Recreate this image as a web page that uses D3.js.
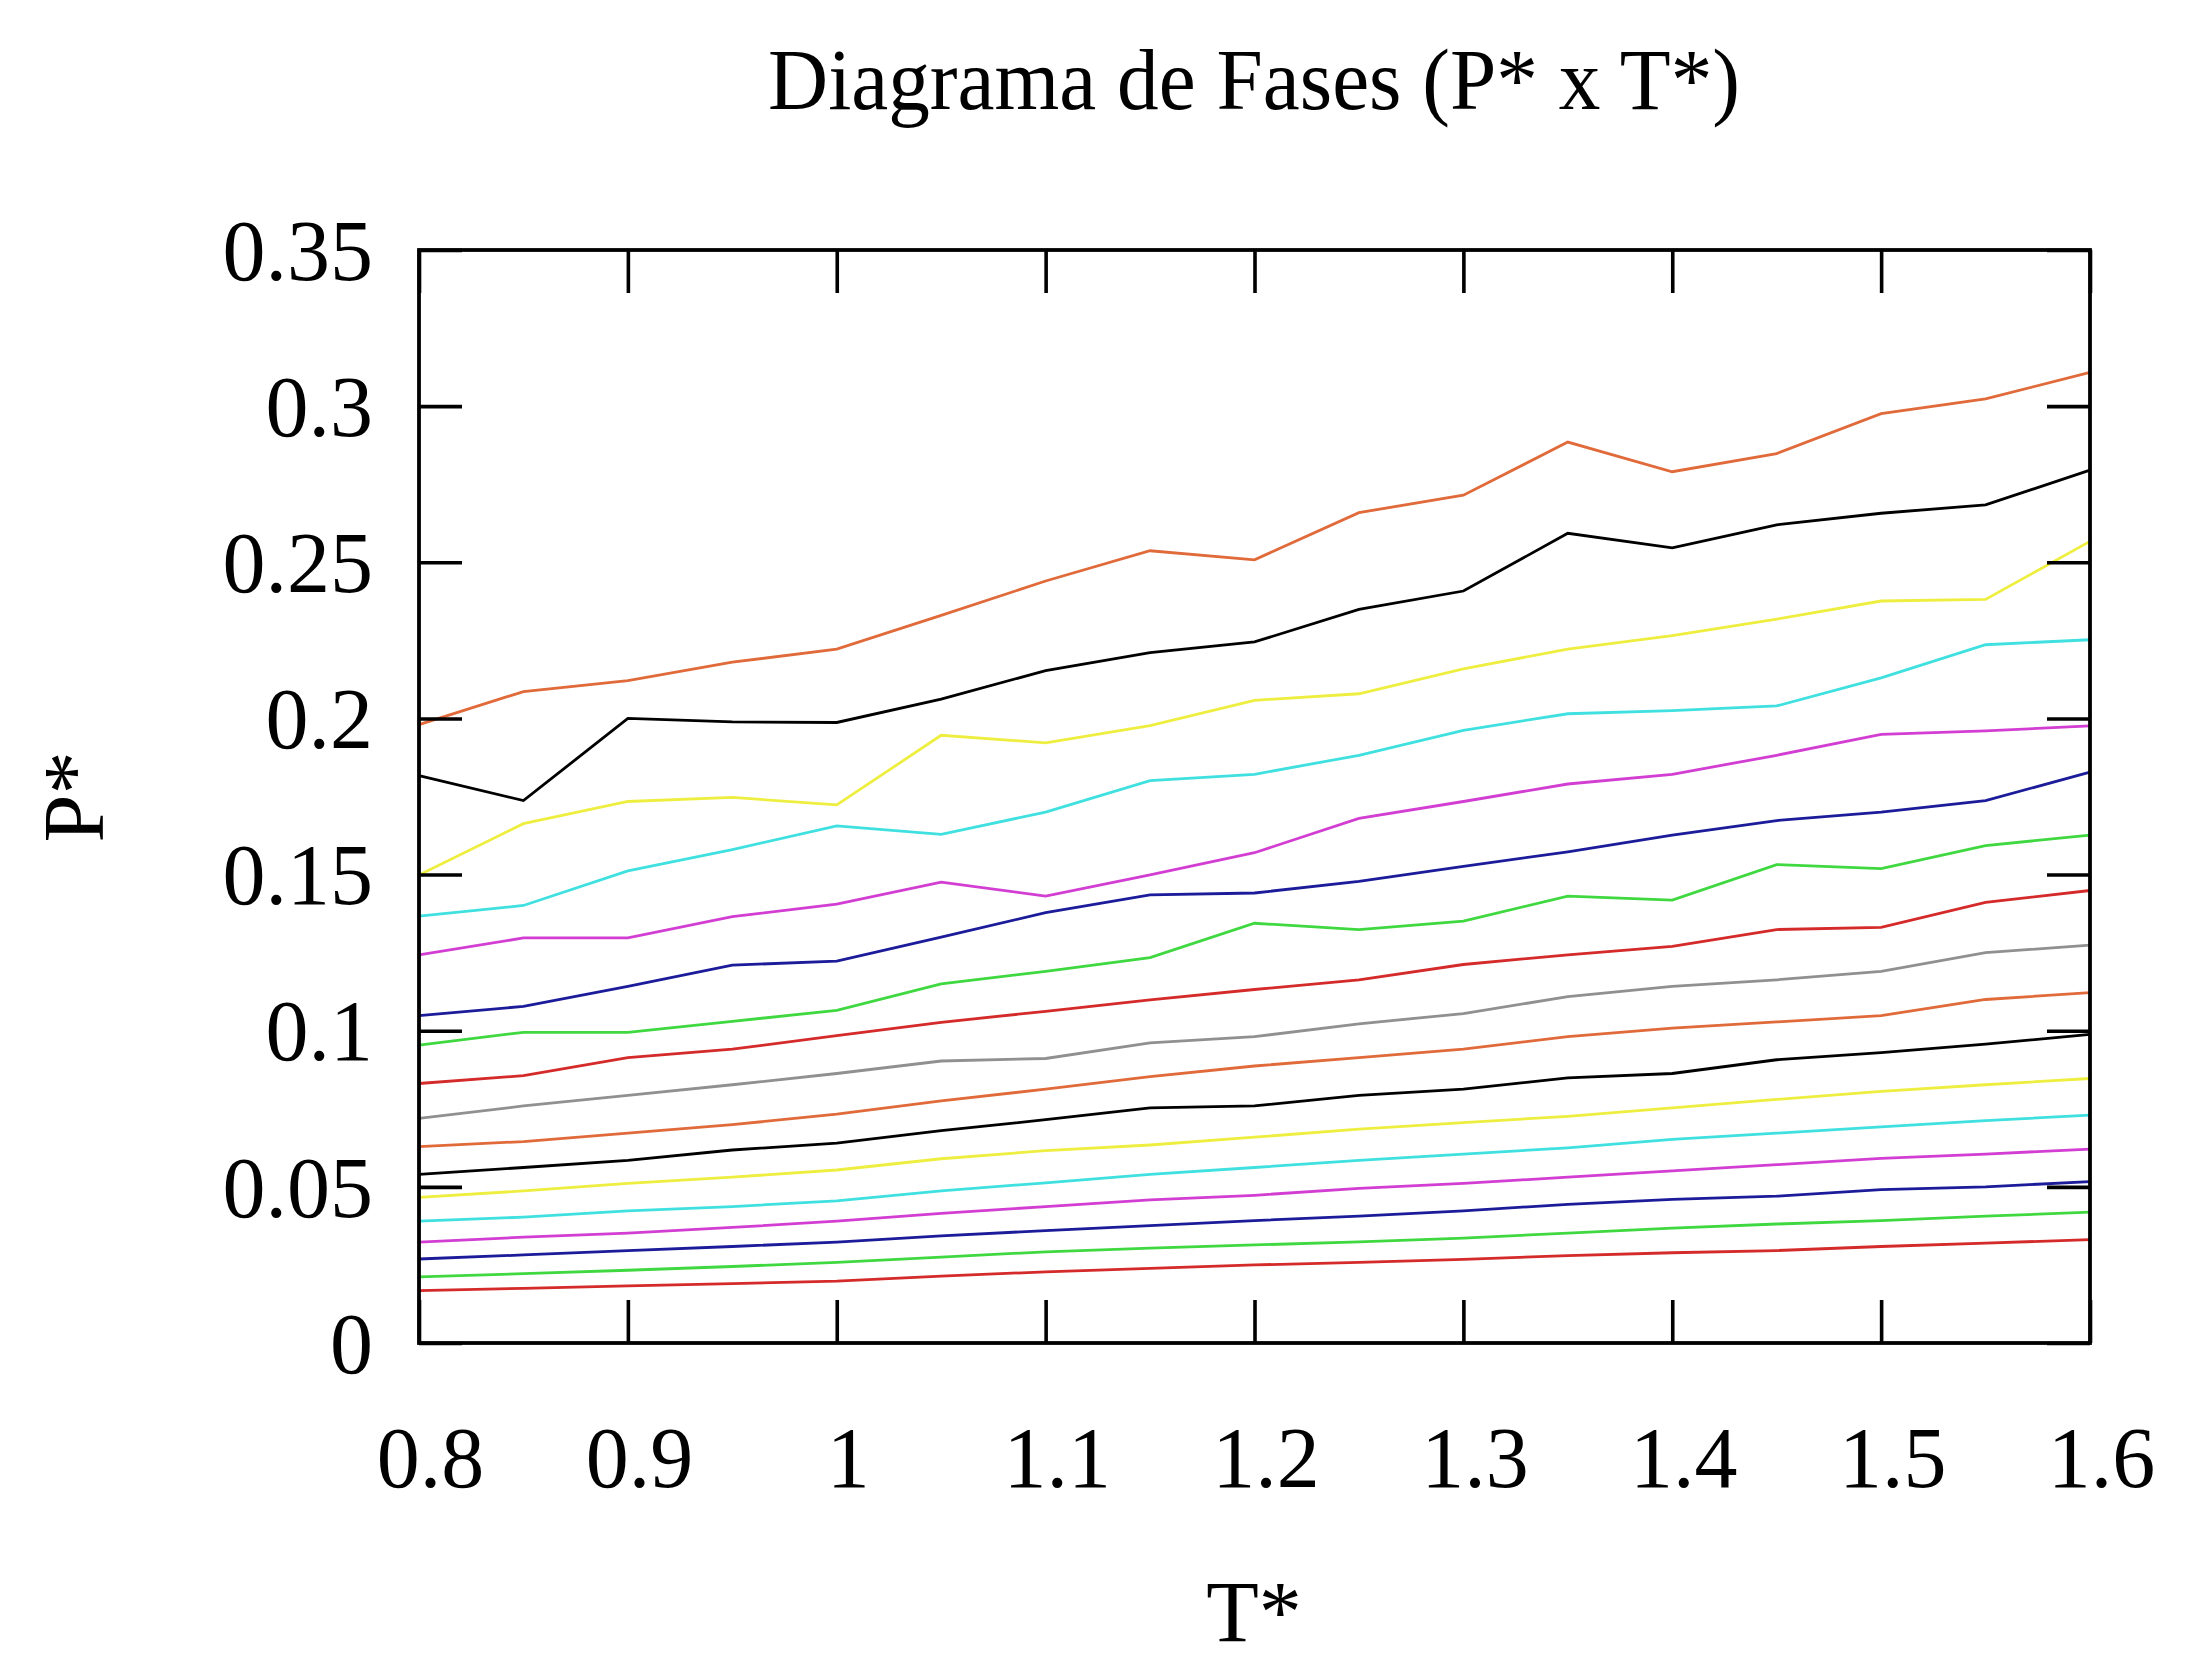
<!DOCTYPE html>
<html>
<head>
<meta charset="utf-8">
<script src="https://cdn.jsdelivr.net/npm/d3@7"></script>
<style>
  html, body { margin: 0; padding: 0; background: #fff; }
  svg { display: block; }
  text { font-family: "Liberation Serif", "DejaVu Serif", serif; fill: #000; }
</style>
</head>
<body>
<svg id="chart" width="2205" height="1660"></svg>
<script>
// ---- data ----
const temps = [0.8,0.85,0.9,0.95,1.0,1.05,1.1,1.15,1.2,1.25,1.3,1.35,1.4,1.45,1.5,1.55,1.6];

const P01 = [0.0168,0.0175,0.0183,0.0190,0.0198,0.0214,0.0228,0.0239,0.0250,0.0258,0.0268,0.0280,0.0289,0.0296,0.0309,0.0320,0.0331];
const P02 = [0.0212,0.0222,0.0233,0.0245,0.0258,0.0275,0.0292,0.0304,0.0314,0.0324,0.0336,0.0352,0.0368,0.0381,0.0392,0.0406,0.0419];
const P03 = [0.0269,0.0282,0.0296,0.0309,0.0323,0.0343,0.0360,0.0376,0.0392,0.0406,0.0423,0.0444,0.0460,0.0470,0.0491,0.0500,0.0517];
const P04 = [0.0323,0.0339,0.0352,0.0370,0.0390,0.0415,0.0437,0.0458,0.0473,0.0495,0.0511,0.0531,0.0551,0.0571,0.0591,0.0605,0.0621];
const P05 = [0.0390,0.0403,0.0423,0.0437,0.0455,0.0487,0.0513,0.0540,0.0562,0.0585,0.0605,0.0625,0.0652,0.0672,0.0692,0.0712,0.0730];
const P06 = [0.0466,0.0487,0.0511,0.0531,0.0554,0.0590,0.0616,0.0634,0.0659,0.0685,0.0706,0.0726,0.0753,0.0780,0.0806,0.0827,0.0847];
const P07 = [0.0540,0.0562,0.0585,0.0618,0.0640,0.0680,0.0715,0.0753,0.0759,0.0793,0.0813,0.0849,0.0863,0.0907,0.0930,0.0957,0.0988];
const P08 = [0.0629,0.0645,0.0672,0.0699,0.0733,0.0775,0.0813,0.0853,0.0887,0.0914,0.0941,0.0981,0.1008,0.1028,0.1048,0.1100,0.1122];
const P09 = [0.0719,0.0759,0.0793,0.0827,0.0863,0.0903,0.0911,0.0961,0.0981,0.1022,0.1055,0.1109,0.1142,0.1163,0.1190,0.1250,0.1274];
const P10 = [0.0831,0.0856,0.0914,0.0941,0.0984,0.1027,0.1062,0.1099,0.1132,0.1163,0.1212,0.1243,0.1270,0.1324,0.1331,0.1411,0.1449];
const P11 = [0.0954,0.0995,0.0995,0.1030,0.1065,0.1150,0.1190,0.1234,0.1344,0.1324,0.1351,0.1431,0.1418,0.1532,0.1519,0.1593,0.1626];
const P12 = [0.1048,0.1078,0.1142,0.1210,0.1223,0.1300,0.1378,0.1435,0.1441,0.1478,0.1526,0.1573,0.1626,0.1673,0.1700,0.1737,0.1828];
const P13 = [0.1243,0.1297,0.1297,0.1365,0.1405,0.1476,0.1431,0.1499,0.1570,0.1680,0.1734,0.1790,0.1821,0.1882,0.1949,0.1960,0.1976];
const P14 = [0.1367,0.1401,0.1512,0.1580,0.1656,0.1629,0.1700,0.1801,0.1821,0.1882,0.1962,0.2015,0.2025,0.2040,0.2130,0.2236,0.2252];
const P15 = [0.1499,0.1663,0.1734,0.1747,0.1723,0.1946,0.1922,0.1977,0.2058,0.2079,0.2159,0.2222,0.2265,0.2318,0.2376,0.2381,0.2567];
const P16 = [0.1817,0.1737,0.2000,0.1989,0.1987,0.2062,0.2153,0.2211,0.2245,0.2349,0.2408,0.2593,0.2546,0.2620,0.2657,0.2684,0.2795];
const P17 = [0.1980,0.2086,0.2121,0.2180,0.2222,0.2330,0.2440,0.2537,0.2508,0.2659,0.2715,0.2885,0.2790,0.2848,0.2976,0.3023,0.3108];

const seriesList = [P01,P02,P03,P04,P05,P06,P07,P08,P09,P10,P11,P12,P13,P14,P15,P16,P17];

const xTickValues = [0.8,0.9,1.0,1.1,1.2,1.3,1.4,1.5,1.6];
const xTickLabels = ["0.8","0.9","1","1.1","1.2","1.3","1.4","1.5","1.6"];
const yTickValues = [0,0.05,0.1,0.15,0.2,0.25,0.3,0.35];
const yTickLabels = ["0","0.05","0.1","0.15","0.2","0.25","0.3","0.35"];

const titleText = "Diagrama de Fases (P* x T*)";
const xLabel = "T*";
const yLabel = "P*";

// ---- styling / layout ----
const palette = ["#d42a2a","#40d840","#1c1c9a","#d23ed2","#40e0e0","#eeee40","#000000","#e06a3a","#909090"];
const plotL = 419, plotR = 2090, plotT = 250, plotB = 1343;
const fontSize = 86;

const svg = d3.select("#chart");
const x = d3.scaleLinear().domain([0.8, 1.6]).range([plotL, plotR]);
const y = d3.scaleLinear().domain([0, 0.35]).range([plotB, plotT]);

// lines
const line = d3.line().x((d, i) => x(temps[i])).y(d => y(d));
svg.append("g").selectAll("path")
  .data(seriesList)
  .join("path")
  .attr("d", d => line(d))
  .attr("fill", "none")
  .attr("stroke", (d, i) => palette[i % palette.length])
  .attr("stroke-width", 2.8)
  .attr("stroke-linejoin", "miter");

const tickLen = 43;
function styleAxis(g) {
  g.select(".domain").remove();
  g.selectAll(".tick line").attr("stroke", "#000").attr("stroke-width", 3.6);
}

// bottom axis
svg.append("g")
  .attr("transform", `translate(0,${plotB})`)
  .call(d3.axisBottom(x).tickValues(xTickValues).tickSizeInner(-tickLen).tickSizeOuter(0)
        .tickFormat((d, i) => xTickLabels[i]))
  .call(styleAxis)
  .call(g => g.selectAll(".tick text")
    .attr("y", 144).attr("dy", 0).attr("x", 11)
    .attr("font-size", fontSize).attr("font-family", "Liberation Serif").attr("fill", "#000"));

// top axis (mirror ticks)
svg.append("g")
  .attr("transform", `translate(0,${plotT})`)
  .call(d3.axisTop(x).tickValues(xTickValues).tickSizeInner(-tickLen).tickSizeOuter(0).tickFormat(""))
  .call(styleAxis);

// left axis
svg.append("g")
  .attr("transform", `translate(${plotL},0)`)
  .call(d3.axisLeft(y).tickValues(yTickValues).tickSizeInner(-tickLen).tickSizeOuter(0)
        .tickFormat((d, i) => yTickLabels[i]))
  .call(styleAxis)
  .call(g => g.selectAll(".tick text")
    .attr("x", -46).attr("dy", "0.34em")
    .attr("font-size", fontSize).attr("font-family", "Liberation Serif").attr("fill", "#000"));

// right axis (mirror ticks)
svg.append("g")
  .attr("transform", `translate(${plotR},0)`)
  .call(d3.axisRight(y).tickValues(yTickValues).tickSizeInner(-tickLen).tickSizeOuter(0).tickFormat(""))
  .call(styleAxis);

// frame
svg.append("rect")
  .attr("x", plotL).attr("y", plotT)
  .attr("width", plotR - plotL).attr("height", plotB - plotT)
  .attr("fill", "none").attr("stroke", "#000").attr("stroke-width", 3.8);

// title
svg.append("text")
  .attr("x", 1254).attr("y", 109)
  .attr("text-anchor", "middle")
  .attr("font-size", fontSize)
  .attr("textLength", 972)
  .attr("lengthAdjust", "spacingAndGlyphs")
  .text(titleText);

// x label
svg.append("text")
  .attr("x", 1254).attr("y", 1641)
  .attr("text-anchor", "middle")
  .attr("font-size", fontSize)
  .text(xLabel);

// y label (rotated)
svg.append("text")
  .attr("transform", "translate(103,797) rotate(-90)")
  .attr("text-anchor", "middle")
  .attr("font-size", fontSize)
  .text(yLabel);
</script>
</body>
</html>
